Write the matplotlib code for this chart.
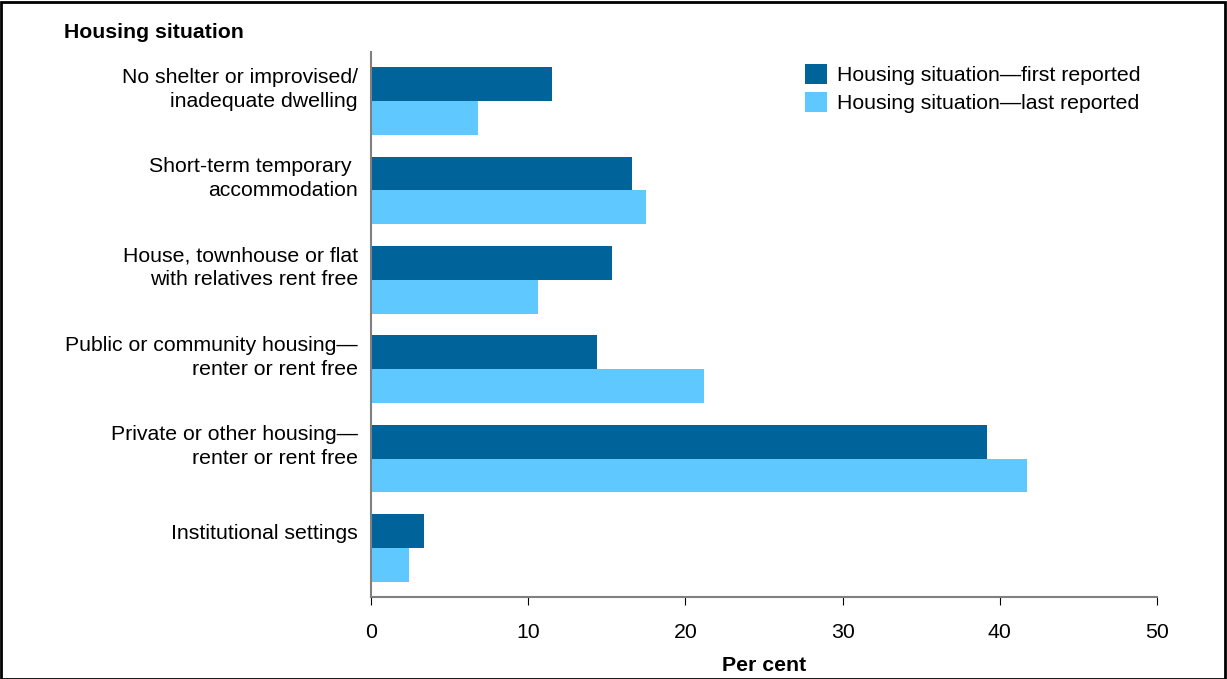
import matplotlib.pyplot as plt
import numpy as np
from matplotlib.patches import Rectangle

plt.rcParams['font.family'] = ['Liberation Sans', 'DejaVu Sans']

categories = [
    "No shelter or improvised/\ninadequate dwelling",
    "Short-term temporary \naccommodation",
    "House, townhouse or flat\nwith relatives rent free",
    "Public or community housing\u2014\nrenter or rent free",
    "Private or other housing\u2014\nrenter or rent free",
    "Institutional settings",
]
first_reported = [11.5, 16.6, 15.3, 14.4, 39.2, 3.4]
last_reported = [6.8, 17.5, 10.6, 21.2, 41.7, 2.4]
xticks = [0, 10, 20, 30, 40, 50]

dark = '#00649A'
light = '#5FC9FF'
fs = 15.3

fig = plt.figure(figsize=(12.27, 6.79), dpi=100)
W, H = 1227, 679
ax = fig.add_axes([371 / W, 1 - 597 / H, (1157 - 371) / W, (597 - 52) / H])

y = np.arange(len(categories))
h = 0.38
ax.barh(y - h / 2, first_reported, height=h, color=dark, label='Housing situation\u2014first reported')
ax.barh(y + h / 2, last_reported, height=h, color=light, label='Housing situation\u2014last reported')

ax.set_ylim(len(categories) - 0.45, -0.55)
ax.set_xlim(0, 50)
ax.set_xticks(xticks)
ax.set_xticklabels([str(t) for t in xticks], fontsize=fs)
# labels sit a little above the middle of each pair of bars
ax.set_yticks(y - 0.18)
ax.set_yticklabels(categories, fontsize=fs, ha='right', linespacing=1.3)
ax.tick_params(axis='y', length=0, pad=9.5)
ax.tick_params(axis='x', length=6, direction='out', color='black', pad=13)

for s in ['top', 'right']:
    ax.spines[s].set_visible(False)
for s in ['left', 'bottom']:
    ax.spines[s].set_color('#808080')
    ax.spines[s].set_linewidth(1.5)

ax.set_xlabel('Per cent', fontsize=fs, fontweight='bold', labelpad=10)

ax.legend(loc='upper left', bbox_to_anchor=(805 / W, 1 - 64 / H), bbox_transform=fig.transFigure,
          frameon=False, fontsize=fs, handlelength=1.05, handleheight=1.1,
          handletextpad=0.45, labelspacing=0.3, borderaxespad=0, borderpad=0)

fig.text(64 / W, 1 - 32 / H, 'Housing situation', fontsize=fs, fontweight='bold',
         ha='left', va='center')

fig.patches.append(Rectangle((0.001, 0.0), 0.997, 0.997, transform=fig.transFigure,
                             fill=False, edgecolor='black', linewidth=2))

fig.savefig('out.png', dpi=100)
